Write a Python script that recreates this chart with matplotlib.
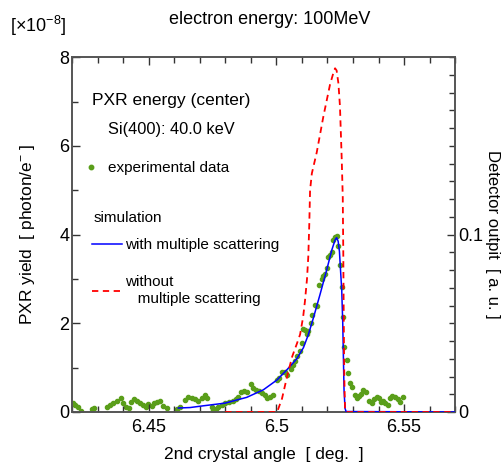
import matplotlib
matplotlib.use("Agg")
import matplotlib.pyplot as plt
from matplotlib.ticker import MultipleLocator, FixedLocator, FixedFormatter
from matplotlib.lines import Line2D

plt.rcParams["font.family"] = ["Liberation Sans", "DejaVu Sans"]
plt.rcParams["mathtext.fontset"] = "custom"
plt.rcParams["mathtext.rm"] = "Liberation Sans"
plt.rcParams["mathtext.it"] = "Liberation Sans:italic"

# experimental data (detector output, a.u.)
exp_angle = [6.4203, 6.4212, 6.4222, 6.4234, 6.4277, 6.4287, 6.4336, 6.4349, 6.4362, 6.4377,
             6.4391, 6.4401, 6.4410, 6.4424, 6.4431, 6.4443, 6.4453, 6.4466, 6.4479, 6.4490,
             6.4499, 6.4512, 6.4521, 6.4534, 6.4545, 6.4558, 6.4573, 6.4612, 6.4623, 6.4643,
             6.4655, 6.4669, 6.4682, 6.4695, 6.4708, 6.4721, 6.4730, 6.4747, 6.4753, 6.4764,
             6.4773, 6.4786, 6.4799, 6.4816, 6.4829, 6.4842, 6.4851, 6.4861, 6.4874, 6.4884,
             6.4900, 6.4910, 6.4921, 6.4933, 6.4943, 6.4956, 6.4965, 6.4975, 6.4988, 6.5002,
             6.5012, 6.5021, 6.5034, 6.5043, 6.5056, 6.5067, 6.5073, 6.5082, 6.5093, 6.5099,
             6.5106, 6.5112, 6.5119, 6.5125, 6.5135, 6.5141, 6.5152, 6.5158, 6.5168, 6.5178,
             6.5184, 6.5191, 6.5197, 6.5204, 6.5210, 6.5217, 6.5223, 6.5230, 6.5237, 6.5243,
             6.5250, 6.5256, 6.5262, 6.5266, 6.5276, 6.5282, 6.5289, 6.5295, 6.5306, 6.5315,
             6.5324, 6.5332, 6.5341, 6.5350, 6.5364, 6.5374, 6.5384, 6.5393, 6.5402, 6.5410,
             6.5419, 6.5426, 6.5436, 6.5445, 6.5454, 6.5465, 6.5475, 6.5484, 6.5495]
exp_output = [0.0053, 0.0040, 0.0028, 0.0005, 0.0018, 0.0023, 0.0028, 0.0040, 0.0053, 0.0063,
              0.0078, 0.0053, 0.0028, 0.0023, 0.0058, 0.0073, 0.0063, 0.0053, 0.0040, 0.0030,
              0.0045, 0.0035, 0.0050, 0.0058, 0.0063, 0.0035, 0.0020, 0.0015, 0.0028, 0.0068,
              0.0085, 0.0078, 0.0073, 0.0063, 0.0078, 0.0093, 0.0080, 0.0028, 0.0013, 0.0018,
              0.0030, 0.0040, 0.0050, 0.0058, 0.0063, 0.0073, 0.0085, 0.0110, 0.0118, 0.0110,
              0.0155, 0.0133, 0.0125, 0.0118, 0.0105, 0.0093, 0.0078, 0.0083, 0.0095, 0.0180,
              0.0190, 0.0228, 0.0223, 0.0208, 0.0240, 0.0265, 0.0288, 0.0313, 0.0345, 0.0388,
              0.0470, 0.0463, 0.0440, 0.0455, 0.0500, 0.0548, 0.0603, 0.0598, 0.0715, 0.0748,
              0.0768, 0.0778, 0.0810, 0.0875, 0.0885, 0.0903, 0.0970, 0.0988, 0.0993, 0.0935,
              0.0828, 0.0705, 0.0538, 0.0368, 0.0293, 0.0218, 0.0165, 0.0140, 0.0095, 0.0078,
              0.0090, 0.0103, 0.0125, 0.0115, 0.0063, 0.0053, 0.0073, 0.0083, 0.0078, 0.0058,
              0.0063, 0.0050, 0.0040, 0.0078, 0.0090, 0.0085, 0.0073, 0.0058, 0.0083]

# simulation with multiple scattering (x1e-8 photon/e-)
ms_angle = [6.4616, 6.4662, 6.4701, 6.4799, 6.4884, 6.4949, 6.5002, 6.5041, 6.5080, 6.5106,
            6.5125, 6.5145, 6.5171, 6.5197, 6.5217, 6.5230, 6.5236, 6.5242, 6.5247, 6.5252,
            6.5256, 6.5260, 6.5262, 6.5265, 6.5269, 6.5273, 6.5700]
ms_yield = [0.09, 0.10, 0.13, 0.20, 0.33, 0.50, 0.72, 0.95, 1.20, 1.45,
            1.74, 2.12, 2.65, 3.20, 3.65, 3.88, 3.93, 3.85, 3.62, 3.13,
            2.75, 2.00, 1.40, 0.50, 0.08, 0.01, 0.0]

# simulation without multiple scattering
nms_angle = [6.4800, 6.5003, 6.5022, 6.5042, 6.5062, 6.5081, 6.5093, 6.5105, 6.5112, 6.5120,
             6.5125, 6.5129, 6.5132, 6.5139, 6.5158, 6.5184, 6.5210, 6.5226, 6.5230, 6.5236,
             6.5243, 6.5249, 6.5256, 6.5260, 6.5262, 6.5264, 6.5266, 6.5269, 6.5273, 6.5700]
nms_yield = [0.0, 0.0, 0.30, 0.80, 1.25, 1.55, 1.75, 2.15, 2.50, 3.00,
             3.50, 4.25, 5.00, 5.38, 5.85, 6.66, 7.38, 7.70, 7.75, 7.70,
             7.41, 6.90, 5.70, 4.85, 3.65, 2.00, 0.80, 0.05, 0.0, 0.0]

fig = plt.figure(figsize=(5.04, 4.65), dpi=100)
ax = fig.add_axes([0.143, 0.114, 0.760, 0.763])
ax2 = ax.twinx()

green = "#5a9e1a"
ax.plot(ms_angle, ms_yield, color="#0000ff", lw=1.1, zorder=3)
ax.plot(nms_angle, nms_yield, color="#ff0000", lw=1.3, ls=(0, (3.5, 2.5)), zorder=4)
ax2.plot(exp_angle, exp_output, "o", color=green, ms=3.0, mec=green, zorder=2)

ax.set_xlim(6.42, 6.57)
ax.set_ylim(0, 8)
ax2.set_ylim(0, 0.2)
ax.set_zorder(ax2.get_zorder() + 1)
ax.patch.set_visible(False)

ax.xaxis.set_major_locator(FixedLocator([6.45, 6.5, 6.55]))
ax.xaxis.set_major_formatter(FixedFormatter(["6.45", "6.5", "6.55"]))
ax.xaxis.set_minor_locator(MultipleLocator(0.01))
ax.yaxis.set_major_locator(MultipleLocator(2))
ax.yaxis.set_minor_locator(MultipleLocator(1))
ax2.yaxis.set_major_locator(FixedLocator([0, 0.1]))
ax2.yaxis.set_major_formatter(FixedFormatter(["0", "0.1"]))
ax2.yaxis.set_minor_locator(MultipleLocator(0.01))

for a in (ax, ax2):
    a.tick_params(which="both", direction="in", labelsize=13, color="#333333")
    a.tick_params(which="major", length=6, width=1)
    a.tick_params(which="minor", length=4, width=1)
    for s in a.spines.values():
        s.set_color("#555555")
        s.set_linewidth(1.2)
ax.tick_params(axis="x", which="both", top=True, pad=5)
ax.tick_params(axis="y", pad=2)
ax2.tick_params(axis="y", pad=2)

ax.set_xlabel("2nd crystal angle  [ deg.  ]", fontsize=12.5, labelpad=8)
ax.set_ylabel("PXR yield  [ photon/e$^{-}$ ]", fontsize=12.5, labelpad=16)
ax2.set_ylabel("Detector outpit  [ a. u. ]", fontsize=12, rotation=270, labelpad=12)
fig.text(0.535, 0.957, "electron energy: 100MeV", ha="center", va="center", fontsize=13)
fig.text(0.02, 0.945, "[×10$^{-8}$]", ha="left", va="center", fontsize=13)

ax.text(0.052, 0.877, "PXR energy (center)", transform=ax.transAxes, fontsize=12.5, va="center")
ax.text(0.093, 0.797, "Si(400): 40.0 keV", transform=ax.transAxes, fontsize=11.8, va="center")
ax.text(0.055, 0.546, "simulation", transform=ax.transAxes, fontsize=11, va="center")

h_exp = Line2D([], [], ls="none", marker="o", color=green, ms=3.2)
leg1 = ax.legend([h_exp], ["experimental data"], loc="center left", bbox_to_anchor=(0.025, 0.688),
                 frameon=False, fontsize=11, handlelength=1.2, handletextpad=0.5, borderaxespad=0,
                 borderpad=0)
ax.add_artist(leg1)
h_ms = Line2D([], [], color="#0000ff", lw=1.1)
h_nms = Line2D([], [], color="#ff0000", lw=1.3, ls=(0, (3.5, 2.5)))
ax.legend([h_ms, h_nms], ["with multiple scattering", "without\n   multiple scattering"],
          loc="upper left", bbox_to_anchor=(0.052, 0.489), frameon=False, fontsize=11,
          handlelength=1.95, handletextpad=0.2, labelspacing=1.5, borderaxespad=0, borderpad=0)

fig.savefig("out.png", dpi=100)
